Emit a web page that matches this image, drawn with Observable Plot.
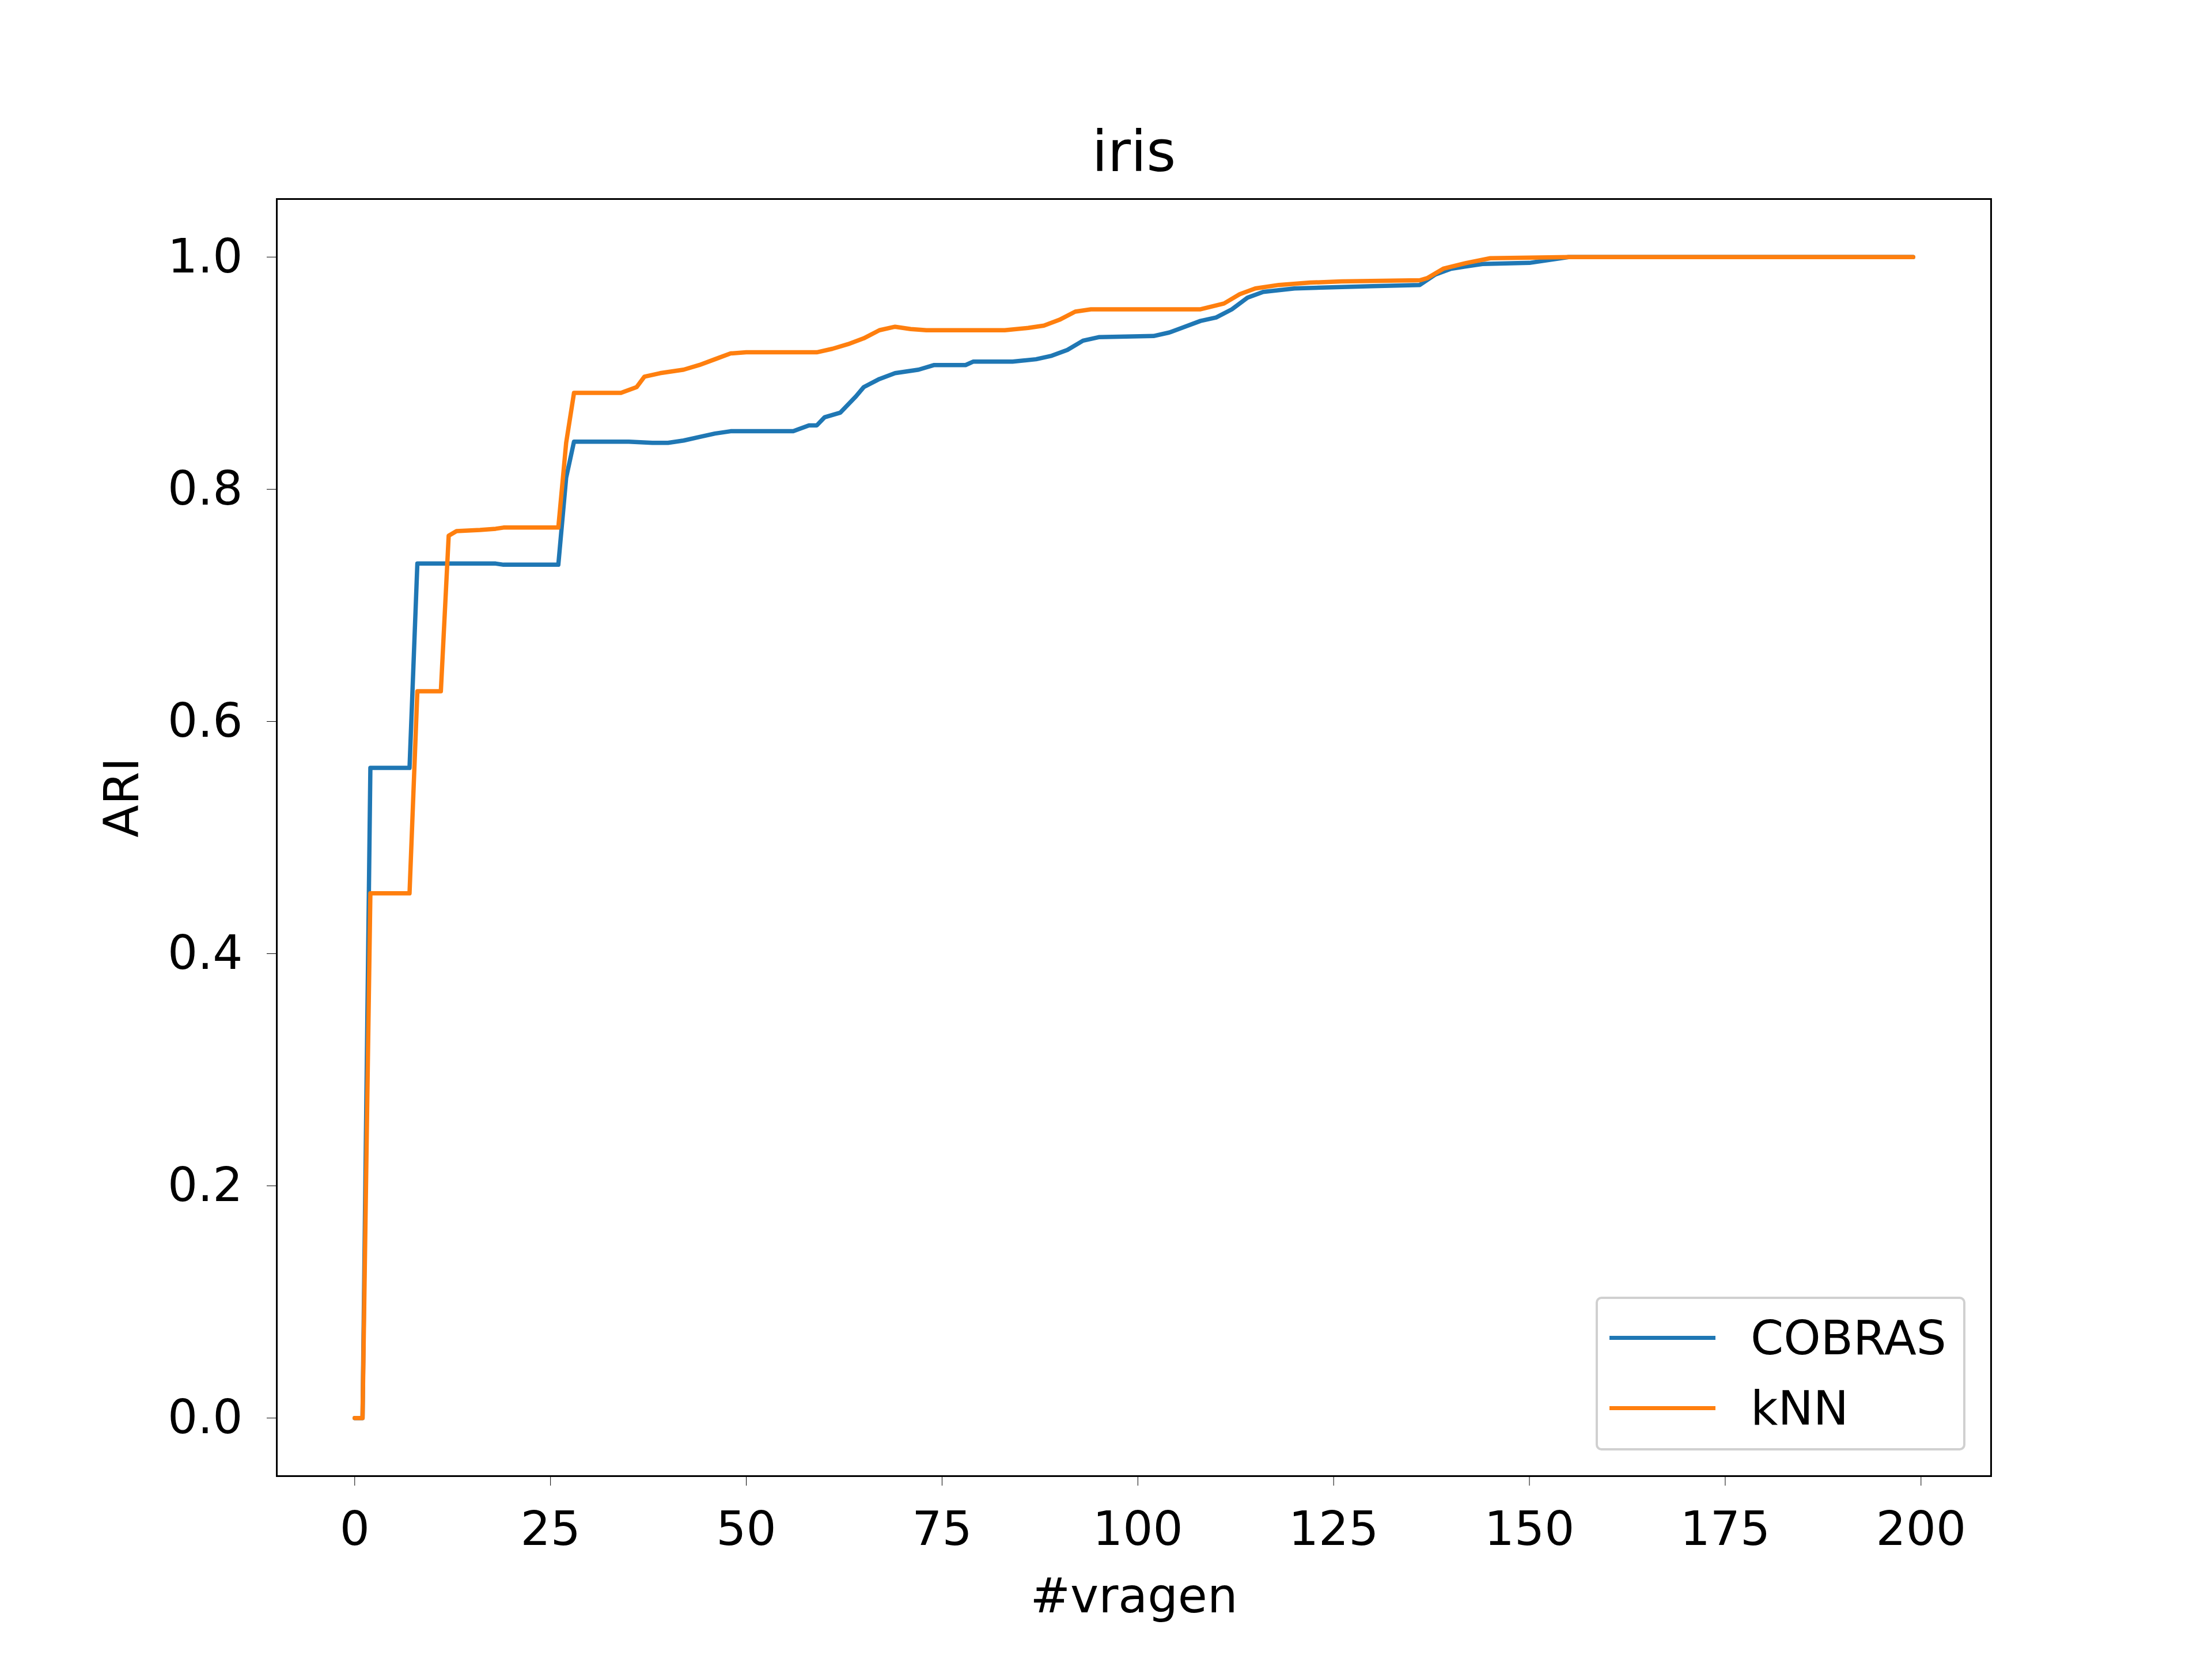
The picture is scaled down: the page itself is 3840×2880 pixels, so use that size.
<!DOCTYPE html>
<html>
<head>
<meta charset="utf-8">
<script src="https://cdn.jsdelivr.net/npm/d3@7"></script>
<script src="https://cdn.jsdelivr.net/npm/@observablehq/plot@0.6"></script>
<style>
  body { margin: 0; background: white; font-family: "DejaVu Sans", sans-serif; }
  #wrap { position: relative; width: 3840px; height: 2880px; }
  #legend { position: absolute; left: 2770px; top: 2251px; width: 642px; height: 267px;
    border: 4px solid #d0d0d0; border-radius: 10px; background: rgba(255,255,255,0.8); box-sizing: border-box; }
  .row { position: absolute; left: 20px; display: flex; align-items: center; font-size: 82px; }
  .sw { width: 184px; height: 7px; margin-right: 61px; }
</style>
</head>
<body>
<div id="wrap">
  <div id="chart"></div>
  <div id="legend">
    <div class="row" style="top:20px"><div class="sw" style="background:#1f77b4"></div>COBRAS</div>
    <div class="row" style="top:142px"><div class="sw" style="background:#ff7f0e"></div>kNN</div>
  </div>
</div>
<script>
const cobrasX = [0,1,2,7,8,18,19,26,27,28,35,38,40,42,44,46,48,56,58,59,60,62,64,65,67,69,72,74,78,79,84,87,89,91,93,95,102,104,106,108,110,112,114,116,120,130,136,138,140,144,150,153,155,199];
const cobrasY = [0,0,0.56,0.56,0.736,0.736,0.735,0.735,0.81,0.841,0.841,0.84,0.84,0.842,0.845,0.848,0.85,0.85,0.855,0.855,0.862,0.866,0.88,0.888,0.895,0.9,0.903,0.907,0.907,0.91,0.91,0.912,0.915,0.92,0.928,0.931,0.932,0.935,0.94,0.945,0.948,0.955,0.965,0.97,0.973,0.975,0.976,0.985,0.99,0.994,0.995,0.998,1,1];
const knnX = [0,1,2,7,8,11,12,13,16,18,19,26,27,28,34,36,37,39,42,44,46,48,50,59,61,63,65,67,69,71,73,83,86,88,90,92,94,108,111,113,115,118,122,126,136,137,139,142,145,155,199];
const knnY = [0,0,0.452,0.452,0.626,0.626,0.76,0.764,0.765,0.766,0.767,0.767,0.84,0.883,0.883,0.888,0.897,0.9,0.903,0.907,0.912,0.917,0.918,0.918,0.921,0.925,0.93,0.937,0.94,0.938,0.937,0.937,0.939,0.941,0.946,0.953,0.955,0.955,0.96,0.968,0.973,0.976,0.978,0.979,0.98,0.982,0.99,0.995,0.999,1,1];
const xTicks = [0,25,50,75,100,125,150,175,200];
const yTicks = [0,0.2,0.4,0.6,0.8,1.0];

const cobras = cobrasX.map((x, i) => ({x, y: cobrasY[i]}));
const knn = knnX.map((x, i) => ({x, y: knnY[i]}));

const chart = Plot.plot({
  width: 3840,
  height: 2880,
  marginLeft: 480,
  marginRight: 384,
  marginTop: 345,
  marginBottom: 318,
  style: {fontFamily: "DejaVu Sans", fontSize: "82px", color: "black", background: "white"},
  x: {domain: [-9.95, 208.95], ticks: xTicks, tickFormat: d => d, tickSize: 17, tickPadding: 44, label: null},
  y: {domain: [-0.05, 1.05], ticks: yTicks, tickFormat: d3.format(".1f"), tickSize: 17, tickPadding: 42, label: null},
  marks: [
    Plot.line(cobras, {x: "x", y: "y", stroke: "#1f77b4", strokeWidth: 7.5}),
    Plot.line(knn, {x: "x", y: "y", stroke: "#ff7f0e", strokeWidth: 7.5}),
    Plot.frame({stroke: "black", strokeWidth: 3}),
    Plot.text(["iris"], {frameAnchor: "top", dy: -118, fontSize: 98, fill: "black"}),
    Plot.text(["#vragen"], {frameAnchor: "bottom", dy: 236, fontSize: 83, fill: "black"}),
    Plot.text(["ARI"], {frameAnchor: "left", dx: -267, rotate: -90, fontSize: 83, fill: "black"})
  ]
});
document.getElementById("chart").append(chart);
</script>
</body>
</html>
